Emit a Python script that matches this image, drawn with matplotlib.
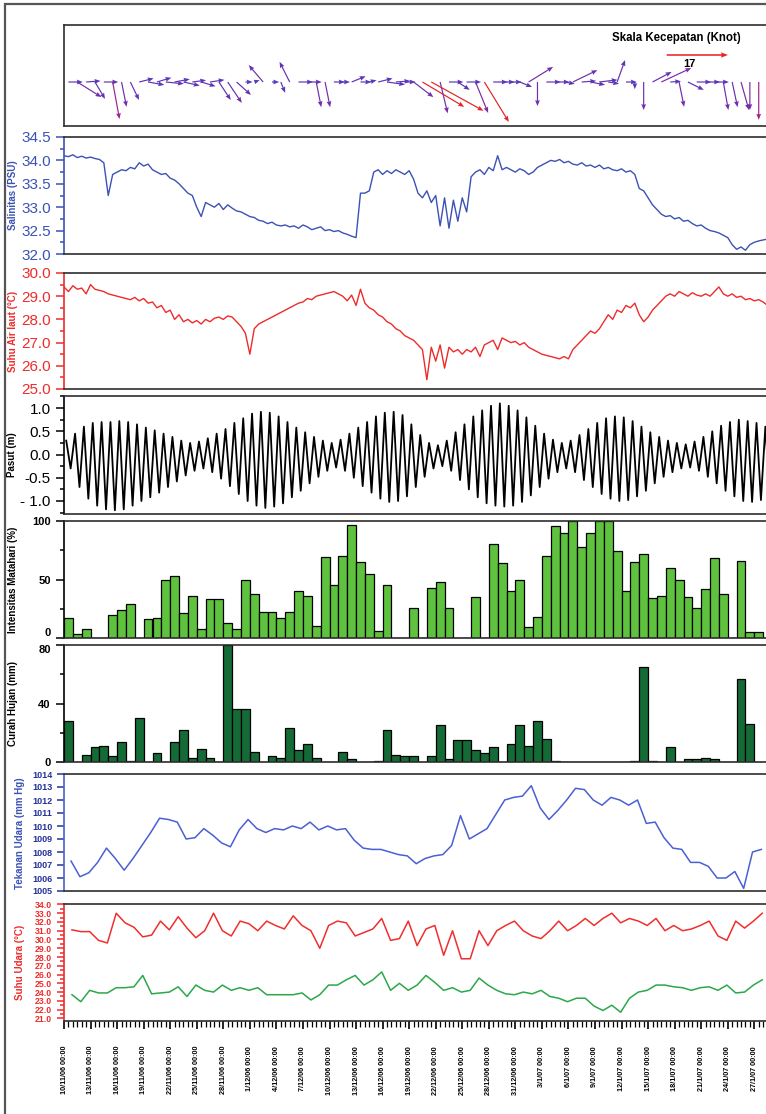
import numpy as np
import matplotlib
matplotlib.use("Agg")
import matplotlib.pyplot as plt
from matplotlib.colors import LinearSegmentedColormap, Normalize
from matplotlib.ticker import MultipleLocator
from matplotlib.patches import Rectangle

plt.rcParams['font.family'] = ['Liberation Sans', 'DejaVu Sans']

# ---------------- data ----------------
# wind vectors, one per day (knots): east and north components
angin_u = [4, 6.7, 4, 2.8, 4, 1.9, 1.4, 2.4, 4, 4.5,
           4, 5, 4.2, 4.5, 3.8, 4, 4, 3.3, 3.9, 4,
           2, 1.5, -4, 2, 1.2, -2.8, 4, 4, 1.4, 1.4,
           3, 2, 3.9, 3, 2, 4, 5, 4, 3, 5.5,
           11.6, 14.5, 2.1, 4, 3.3, 4, 3.5, 6.8, 4, 3.5,
           3, 3.4, 6.8, 0, 4, 4, 3, 6.8, 4, 4,
           5, 3, 2.2, 3, 0, 0, 5.3, 8.3, 3, 1.4,
           4.4, 4, 4, 4, 1.4, 1.5, 2.2, 0, 0]
angin_v = [0, -4.2, 0.3, -4.7, 0, -10.3, -6.9, -5, 1, -0.8,
           1.2, -0.5, 0.8, -1, 0.5, -1.2, 0.6, -5, -5.8, -3.6,
           0, 0.5, 4.7, 0, -3, 5.6, 0, 0, -7, -7,
           0, 0, 1.6, 0, 0.5, 1, -0.7, 0.3, 0, -4.2,
           -6.9, -8, -8.7, 0, -2.2, 0, -8.6, -11.1, 0, 0,
           0, -1.4, 4.2, -6.7, 0, 0, -0.5, 3.3, 0.3, -0.8,
           0.6, -0.5, 6.1, 0, -2, -7.8, 2.8, 3.9, 0.2, -6.9,
           -2.2, 0, 0, 0, -7.8, -7, -7.8, -7.8, -10.5]
skala_kecepatan = 17

# salinity (PSU), every 12 hours
salinitas = [34.10, 34.08, 34.12, 34.06, 34.09, 34.05, 34.07, 34.04, 34.02, 33.95,
             33.25, 33.70, 33.75, 33.80, 33.78, 33.85, 33.82, 33.95, 33.88, 33.92,
             33.80, 33.75, 33.70, 33.72, 33.62, 33.58, 33.50, 33.40, 33.30, 33.25,
             33.00, 32.80, 33.10, 33.05, 33.00, 33.08, 32.95, 33.05, 32.98, 32.92,
             32.90, 32.85, 32.80, 32.78, 32.72, 32.70, 32.65, 32.68, 32.62, 32.60,
             32.62, 32.58, 32.60, 32.55, 32.62, 32.58, 32.52, 32.55, 32.58, 32.50,
             32.52, 32.48, 32.50, 32.45, 32.42, 32.38, 32.35, 33.30, 33.30, 33.35,
             33.75, 33.80, 33.70, 33.78, 33.72, 33.80, 33.75, 33.70, 33.78, 33.60,
             33.30, 33.20, 33.35, 33.10, 33.25, 32.60, 33.20, 32.55, 33.15, 32.70,
             33.20, 32.90, 33.65, 33.75, 33.80, 33.70, 33.85, 33.78, 34.10, 33.80,
             33.85, 33.80, 33.75, 33.82, 33.78, 33.70, 33.75, 33.85, 33.90, 33.95,
             34.00, 33.98, 34.02, 33.95, 33.98, 33.92, 33.90, 33.95, 33.88, 33.90,
             33.85, 33.90, 33.82, 33.85, 33.80, 33.78, 33.82, 33.75, 33.78, 33.70,
             33.40, 33.35, 33.20, 33.05, 32.95, 32.85, 32.80, 32.82, 32.75, 32.78,
             32.70, 32.72, 32.65, 32.60, 32.62, 32.55, 32.50, 32.48, 32.45, 32.40,
             32.35, 32.20, 32.10, 32.15, 32.08, 32.20, 32.25, 32.28, 32.30, 32.32]

# sea water temperature (C), every 12 hours
suhu_air_laut = [29.40, 29.20, 29.45, 29.30, 29.35, 29.10, 29.50, 29.30, 29.25, 29.20,
                 29.10, 29.05, 29.00, 28.95, 28.90, 28.85, 28.95, 28.80, 28.90, 28.70,
                 28.75, 28.50, 28.60, 28.30, 28.40, 28.00, 28.20, 27.90, 28.00, 27.85,
                 27.95, 27.80, 28.00, 27.90, 28.05, 28.10, 28.00, 28.15, 28.10, 27.90,
                 27.70, 27.40, 26.50, 27.60, 27.80, 27.90, 28.00, 28.10, 28.20, 28.30,
                 28.40, 28.50, 28.60, 28.70, 28.75, 28.90, 28.85, 29.00, 29.05, 29.10,
                 29.15, 29.20, 29.10, 29.00, 28.80, 29.05, 28.60, 29.30, 28.70, 28.50,
                 28.40, 28.20, 28.10, 27.90, 27.80, 27.60, 27.50, 27.30, 27.20, 27.10,
                 26.90, 26.70, 25.40, 26.80, 26.20, 26.90, 25.90, 26.80, 26.60, 26.70,
                 26.50, 26.70, 26.60, 26.80, 26.40, 26.90, 27.00, 27.10, 26.70, 27.20,
                 27.10, 27.00, 27.05, 26.90, 27.00, 26.80, 26.70, 26.60, 26.50, 26.45,
                 26.40, 26.35, 26.30, 26.40, 26.30, 26.70, 26.90, 27.10, 27.30, 27.50,
                 27.40, 27.60, 27.90, 28.20, 28.00, 28.40, 28.30, 28.60, 28.50, 28.70,
                 28.20, 27.90, 28.10, 28.40, 28.60, 28.80, 29.00, 29.10, 29.00, 29.20,
                 29.10, 29.00, 29.15, 29.05, 29.00, 29.10, 29.00, 29.20, 29.40, 29.10,
                 29.00, 29.10, 28.95, 29.00, 28.85, 28.90, 28.80, 28.85, 28.75, 28.60]

# daily high and low water (m)
pasut_tinggi = [0.30, 0.45, 0.60, 0.68, 0.70, 0.70, 0.72, 0.70, 0.65, 0.58,
                0.52, 0.45, 0.38, 0.30, 0.25, 0.28, 0.35, 0.45, 0.55, 0.68,
                0.78, 0.88, 0.92, 0.90, 0.82, 0.70, 0.58, 0.48, 0.38, 0.30,
                0.25, 0.32, 0.45, 0.58, 0.70, 0.82, 0.90, 0.92, 0.85, 0.65,
                0.42, 0.25, 0.20, 0.30, 0.48, 0.65, 0.82, 0.95, 1.05, 1.10,
                1.05, 0.95, 0.80, 0.62, 0.45, 0.32, 0.25, 0.30, 0.42, 0.55,
                0.68, 0.78, 0.82, 0.80, 0.72, 0.60, 0.48, 0.38, 0.30, 0.25,
                0.22, 0.28, 0.38, 0.50, 0.62, 0.70, 0.75, 0.72, 0.68, 0.60]
pasut_rendah = [-0.30, -0.70, -0.95, -1.10, -1.18, -1.20, -1.18, -1.10, -1.00, -0.92,
                -0.82, -0.70, -0.58, -0.45, -0.35, -0.30, -0.38, -0.52, -0.68, -0.85,
                -1.00, -1.10, -1.15, -1.12, -1.05, -0.92, -0.78, -0.62, -0.48, -0.35,
                -0.28, -0.35, -0.50, -0.68, -0.82, -0.95, -1.02, -1.00, -0.90, -0.70,
                -0.48, -0.30, -0.25, -0.35, -0.55, -0.75, -0.92, -1.05, -1.10, -1.12,
                -1.10, -1.02, -0.88, -0.70, -0.52, -0.38, -0.30, -0.38, -0.55, -0.70,
                -0.85, -0.95, -1.00, -0.98, -0.90, -0.78, -0.62, -0.48, -0.38, -0.30,
                -0.28, -0.35, -0.48, -0.62, -0.78, -0.90, -1.00, -1.02, -0.98, -0.92]

# daily sunshine (%) and rainfall (mm)
intensitas_matahari = [17, 3, 8, 0, 0, 20, 24, 29, 0, 16,
                       17, 50, 53, 21, 36, 8, 33, 33, 13, 8,
                       50, 38, 22, 22, 17, 22, 40, 36, 10, 69,
                       45, 70, 97, 65, 55, 6, 45, 0, 0, 26,
                       0, 43, 48, 26, 0, 0, 35, 0, 80, 64,
                       40, 50, 9, 18, 70, 96, 90, 100, 78, 90,
                       100, 100, 74, 40, 65, 72, 34, 36, 60, 50,
                       35, 26, 42, 68, 38, 0, 66, 5, 5]
curah_hujan = [28, 0, 5, 10, 11, 4, 14, 1, 30, 0,
               6, 0, 14, 22, 3, 9, 3, 0, 80, 36,
               36, 7, 0, 4, 3, 23, 8, 12, 3, 0,
               0, 7, 2, 0, 0, 1, 22, 5, 4, 4,
               0, 4, 25, 2, 15, 15, 8, 6, 10, 0,
               12, 25, 11, 28, 16, 1, 0, 0, 0, 0,
               0, 0, 0, 0, 1, 65, 1, 0, 10, 0,
               2, 2, 3, 2, 0, 0, 57, 26, 0]

# daily air pressure and air temperature (max / min)
tekanan_udara = [1007.3, 1006.1, 1006.4, 1007.2, 1008.3, 1007.5, 1006.6, 1007.5, 1008.5, 1009.5,
                 1010.6, 1010.5, 1010.3, 1009.0, 1009.1, 1009.8, 1009.3, 1008.7, 1008.4, 1009.7,
                 1010.5, 1009.8, 1009.5, 1009.8, 1009.7, 1010.0, 1009.8, 1010.3, 1009.7, 1010.0,
                 1009.7, 1009.8, 1008.9, 1008.3, 1008.2, 1008.2, 1008.0, 1007.8, 1007.7, 1007.1,
                 1007.5, 1007.7, 1007.8, 1008.5, 1010.8, 1009.0, 1009.4, 1009.8, 1010.9, 1012.0,
                 1012.2, 1012.3, 1013.1, 1011.4, 1010.5, 1011.2, 1012.0, 1012.9, 1012.8, 1012.0,
                 1011.6, 1012.2, 1012.0, 1011.6, 1012.0, 1010.2, 1010.3, 1009.1, 1008.3, 1008.2,
                 1007.2, 1007.2, 1006.9, 1006.0, 1006.0, 1006.5, 1005.2, 1008.0, 1008.2]
suhu_udara_maks = [31.1, 30.9, 30.9, 29.9, 29.6, 33.0, 31.9, 31.4, 30.3, 30.5,
                   32.1, 31.1, 32.6, 31.3, 30.2, 31.0, 33.0, 31.0, 30.4, 32.1,
                   31.8, 31.0, 32.1, 31.6, 31.2, 32.7, 31.6, 31.0, 29.0, 31.6,
                   32.1, 31.9, 30.4, 30.8, 31.2, 32.4, 29.9, 30.1, 32.1, 29.3,
                   31.2, 31.6, 28.2, 31.0, 27.8, 27.8, 31.0, 29.3, 31.0, 31.6,
                   32.1, 31.0, 30.4, 30.1, 31.0, 32.1, 31.0, 31.6, 32.4, 31.6,
                   32.4, 33.0, 31.9, 32.4, 32.1, 31.6, 32.4, 31.0, 31.6, 31.0,
                   31.2, 31.6, 32.1, 30.4, 29.9, 32.1, 31.3, 32.1, 33.0]
suhu_udara_min = [23.7, 22.9, 24.2, 23.9, 23.9, 24.5, 24.5, 24.6, 25.9, 23.8,
                  23.9, 24.0, 24.6, 23.5, 24.8, 24.2, 24.0, 24.8, 24.2, 24.5,
                  24.2, 24.5, 23.7, 23.7, 23.7, 23.7, 23.9, 23.1, 23.7, 24.8,
                  24.8, 25.4, 25.9, 24.8, 25.4, 26.3, 24.2, 25.0, 24.2, 24.8,
                  25.9, 25.1, 24.2, 24.5, 24.0, 24.2, 25.6, 24.8, 24.2, 23.8,
                  23.7, 24.0, 23.8, 24.2, 23.5, 23.3, 22.9, 23.3, 23.3, 22.4,
                  21.9, 22.5, 21.7, 23.3, 24.0, 24.2, 24.8, 24.8, 24.6, 24.5,
                  24.2, 24.5, 24.6, 24.2, 24.8, 23.9, 24.0, 24.8, 25.4]

label_tanggal = ["10/11/06 00:00", "13/11/06 00:00", "16/11/06 00:00", "19/11/06 00:00",
                 "22/11/06 00:00", "25/11/06 00:00", "28/11/06 00:00", "1/12/06 00:00",
                 "4/12/06 00:00", "7/12/06 00:00", "10/12/06 00:00", "13/12/06 00:00",
                 "16/12/06 00:00", "19/12/06 00:00", "22/12/06 00:00", "25/12/06 00:00",
                 "28/12/06 00:00", "31/12/06 00:00", "3/1/07 00:00", "6/1/07 00:00",
                 "9/1/07 00:00", "12/1/07 00:00", "15/1/07 00:00", "18/1/07 00:00",
                 "21/1/07 00:00", "24/1/07 00:00", "27/1/07 00:00"]

# ---------------- layout ----------------
W, H = 766, 1114
X0 = 64               # pixel of day 0
PX_DAY = 8.85         # pixels per day
PX_KNOT = 3.6         # pixels per knot in the vector panel
XMAX = (W + 2 - X0) / PX_DAY

BLUE = "#3b52b4"
RED = "#ee2b2b"
DARK_BLUE = "#24339a"
FRAME = "#2e2e2e"

fig = plt.figure(figsize=(W / 100, H / 100), dpi=100)


def panel(top, bottom):
    ax = fig.add_axes([X0 / W, 1 - bottom / H, (W + 2 - X0) / W, (bottom - top) / H])
    ax.set_xlim(0, XMAX)
    for s in ("top", "bottom"):
        ax.spines[s].set_color(FRAME)
        ax.spines[s].set_linewidth(1.2)
    ax.spines["right"].set_visible(False)
    ax.spines["left"].set_linewidth(1.2)
    ax.set_xticks([])
    ax.patch.set_alpha(0)
    return ax


def style_y(ax, color, size, weight="normal", major=6, minor=3):
    ax.spines["left"].set_color(color)
    ax.tick_params(axis="y", which="both", colors=color, width=1.1)
    ax.tick_params(axis="y", which="major", length=major, labelsize=size)
    ax.tick_params(axis="y", which="minor", length=minor)
    for lab in ax.get_yticklabels():
        lab.set_fontweight(weight)
        lab.set_color(color)


# outer frame
fig.patches.append(Rectangle((5 / W, -0.02), 1.1, 1 - 4 / H + 0.02, transform=fig.transFigure,
                             fill=False, edgecolor="#555555", linewidth=1.6))

days = np.arange(len(angin_u))
half_day = np.arange(len(salinitas)) * 0.5

# 1: wind vectors, coloured by speed
ax1 = panel(25, 126)
ax1.spines["left"].set_color(FRAME)
ax1.set_yticks([])
ax1.set_ylim(-44 / PX_KNOT, 57 / PX_KNOT)
u = np.array(angin_u)
v = np.array(angin_v)
speed = np.hypot(u, v)
cmap = LinearSegmentedColormap.from_list(
    "angin", [(0.0, "#4a40c4"), (0.3, "#6233b4"), (0.55, "#7f2ba6"),
              (0.66, "#b51f78"), (0.78, "#e42424"), (1.0, "#e42424")])
norm = Normalize(0, 17)
k = PX_KNOT / PX_DAY
ax1.quiver(days + 0.5, np.zeros_like(u), u * k, v, speed, cmap=cmap, norm=norm,
           angles="xy", scale_units="xy", scale=1, width=0.0017,
           headwidth=4, headlength=5, headaxislength=4.5)
ax1.quiver([68.1], [7.5], [skala_kecepatan * k], [0], color="#e82222",
           angles="xy", scale_units="xy", scale=1, width=0.0022,
           headwidth=3.5, headlength=4.5, headaxislength=4)
ax1.text(70.7, 5.0, str(skala_kecepatan), fontsize=8, fontweight="bold", ha="center", va="center")
ax1.text(61.9, 12.1, "Skala Kecepatan (Knot)", fontsize=8.3, fontweight="bold",
         ha="left", va="center", clip_on=False)

# 2: salinity
ax2 = panel(137, 254)
ax2.plot(half_day, salinitas, color=BLUE, lw=1.0)
ax2.set_ylim(32.0, 34.5)
ax2.set_yticks(np.arange(32.0, 34.51, 0.5))
ax2.set_yticklabels([f"{t:.1f}" for t in np.arange(32.0, 34.51, 0.5)])
ax2.yaxis.set_minor_locator(MultipleLocator(0.25))
style_y(ax2, BLUE, 11)

# 3: sea temperature
ax3 = panel(273, 389)
ax3.plot(half_day, suhu_air_laut, color=RED, lw=1.0)
ax3.set_ylim(25.0, 30.0)
ax3.set_yticks(np.arange(25, 31, 1.0))
ax3.set_yticklabels([f"{t:.1f}" for t in np.arange(25, 31, 1.0)])
ax3.yaxis.set_minor_locator(MultipleLocator(0.5))
style_y(ax3, RED, 11)

# 4: tide
ax4 = panel(396, 514)
hi = np.array(pasut_tinggi)
lo = np.array(pasut_rendah)
t_tide = np.empty(2 * len(hi))
h_tide = np.empty(2 * len(hi))
t_tide[0::2] = np.arange(len(hi)) + 0.25
t_tide[1::2] = np.arange(len(hi)) + 0.75
h_tide[0::2] = hi
h_tide[1::2] = lo
ax4.plot(t_tide, h_tide, color="black", lw=1.3)
ax4.set_ylim(-1.28, 1.26)
ax4.set_yticks([-1.0, -0.5, 0.0, 0.5, 1.0])
ax4.set_yticklabels(["- 1.0", "-0.5", "0.0", "0.5", "1.0"])
ax4.yaxis.set_minor_locator(MultipleLocator(0.25))
style_y(ax4, "black", 11)

# 5: sunshine
ax5 = panel(521, 638)
ax5.bar(days + 0.5, intensitas_matahari, width=1.0, color="#5fc23e", edgecolor="black", linewidth=0.9)
ax5.set_ylim(0, 100)
ax5.set_yticks([0, 50, 100])
ax5.yaxis.set_minor_locator(MultipleLocator(25))
style_y(ax5, "black", 8, "bold")
ax5.get_yticklabels()[0].set_va("bottom")

# 6: rainfall
ax6 = panel(645, 762)
ax6.bar(days + 0.5, curah_hujan, width=1.0, color="#156b36", edgecolor="black", linewidth=0.9)
ax6.set_ylim(0, 80)
ax6.set_yticks([0, 40, 80])
ax6.yaxis.set_minor_locator(MultipleLocator(20))
style_y(ax6, "black", 8, "bold")
ax6.get_yticklabels()[-1].set_va("top")

# 7: air pressure
ax7 = panel(774, 891)
ax7.plot(days + 0.8, tekanan_udara, color="#4a60d2", lw=1.1)
ax7.set_ylim(1005, 1014)
ax7.set_yticks(np.arange(1005, 1015))
style_y(ax7, DARK_BLUE, 6.5, "bold", major=5)
ax7.spines["left"].set_color("#4a60d2")

# 8: air temperature
ax8 = panel(904, 1021)
ax8.plot(days + 0.9, suhu_udara_maks, color="#f02e2e", lw=1.1)
ax8.plot(days + 0.9, suhu_udara_min, color="#2aa84a", lw=1.1)
ax8.set_ylim(20.7, 34.05)
ax8.set_yticks(np.arange(21, 35))
ax8.set_yticklabels([f"{t:.1f}" for t in np.arange(21, 35)])
ax8.yaxis.set_minor_locator(MultipleLocator(0.5))
style_y(ax8, RED, 6.3, "bold", major=5, minor=3)
ax8.set_xticks(np.arange(0, 3 * len(label_tanggal), 3))
ax8.set_xticklabels(label_tanggal, rotation=90, fontsize=5.2, fontweight="bold")
ax8.xaxis.set_minor_locator(MultipleLocator(0.5))
ax8.tick_params(axis="x", which="major", length=6, width=1.2, pad=12, color="black")
ax8.tick_params(axis="x", which="minor", length=4, width=0.9, color="black")

# y-axis titles
ylabels = [
    ("Salinitas (PSU)", 13, 195, BLUE),
    ("Suhu Air laut (\u00b0C)", 13, 331, RED),
    ("Pasut (m)", 12, 455, "black"),
    ("Intensitas Matahari (%)", 13, 580, "black"),
    ("Curah Hujan (mm)", 13, 703, "black"),
    ("Tekanan Udara (mm Hg)", 20, 833, BLUE),
    ("Suhu Udara (\u00b0C)", 20, 962, RED),
]
for txt, xp, yp, col in ylabels:
    fig.text(xp / W, 1 - yp / H, txt, rotation=90, ha="center", va="center",
             fontsize=7, fontweight="bold", color=col)

fig.savefig("out.png", dpi=100)
